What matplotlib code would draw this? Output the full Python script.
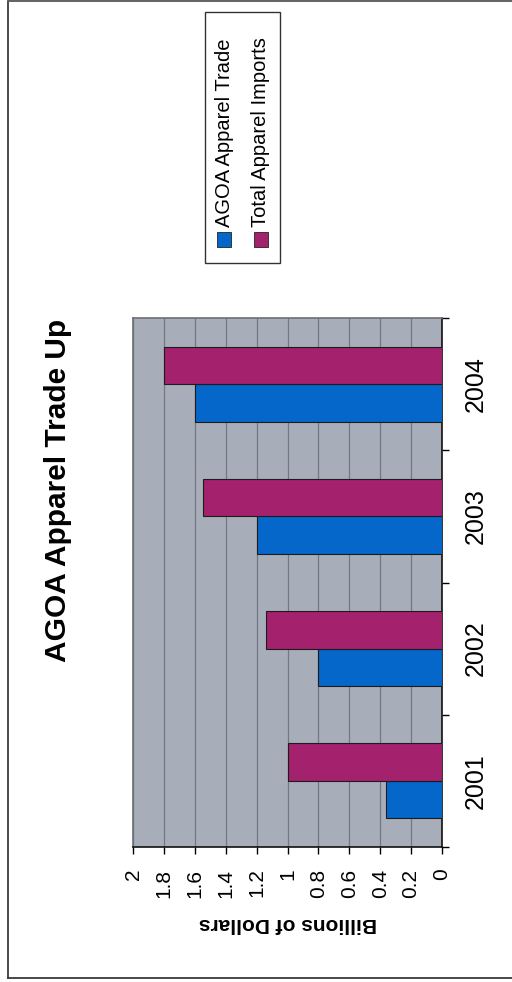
import numpy as np
import matplotlib.pyplot as plt
from matplotlib.patches import Rectangle
from matplotlib.lines import Line2D


# ============================================================
# DADOS DO GRÁFICO
# ============================================================

anos = ["2001", "2002", "2003", "2004"]

agoa_trade = [0.36, 0.80, 1.20, 1.60]      # AGOA Apparel Trade
total_imports = [1.00, 1.14, 1.55, 1.80]   # Total Apparel Imports

nomes_series = ["AGOA Apparel Trade", "Total Apparel Imports"]

valores_ticks = [0, 0.2, 0.4, 0.6, 0.8, 1, 1.2, 1.4, 1.6, 1.8, 2]
rotulos_ticks = ["0", "0.2", "0.4", "0.6", "0.8", "1", "1.2", "1.4", "1.6", "1.8", "2"]

titulo = "AGOA Apparel Trade Up"
rotulo_eixo = "Billions of Dollars"


# ============================================================
# ESTILO
# ============================================================

plt.rcParams['font.family'] = ['Liberation Sans', 'DejaVu Sans']

azul = "#0467c9"
rosa = "#a3216d"
fundo = "#a8adba"
grade = "#737885"

W, H = 512, 982


def fx(x):
    return x / W


def fy(y):
    return 1 - y / H


# ============================================================
# FIGURA (gráfico de colunas girado 90 graus)
# ============================================================

fig = plt.figure(figsize=(W / 100, H / 100), dpi=100)

ax = fig.add_axes([fx(133), fy(847), (442 - 133) / W, (847 - 318) / H])
ax.set_facecolor(fundo)

pos = np.arange(len(anos))
larg = 0.284

ax.barh(pos - larg / 2, agoa_trade, height=larg, color=azul,
        edgecolor="#1c1c1c", linewidth=0.8, zorder=3)
ax.barh(pos + larg / 2, total_imports, height=larg, color=rosa,
        edgecolor="#1c1c1c", linewidth=0.8, zorder=3)

ax.set_xlim(2, 0)
ax.set_ylim(-0.5, 3.5)

# eixo de valores (embaixo, rótulos girados)
ax.set_xticks(valores_ticks)
ax.set_xticklabels(rotulos_ticks, rotation=90, fontsize=15)
ax.tick_params(axis="x", direction="out", length=5, width=1, pad=10.5)
ax.xaxis.grid(True, color=grade, linewidth=0.9, zorder=0)
ax.set_axisbelow(True)

# eixo de categorias (à direita)
ax.yaxis.tick_right()
ax.set_yticks(pos)
ax.set_yticklabels(anos, rotation=90, fontsize=18, va="center")
ax.set_yticks(np.arange(-0.5, 4, 1), minor=True)
ax.tick_params(axis="y", which="major", length=0, pad=16)
ax.tick_params(axis="y", which="minor", direction="out", length=5,
               width=1, right=True, left=False)

for lado in ["top", "left"]:
    ax.spines[lado].set_color("#6d6f75")
    ax.spines[lado].set_linewidth(1.2)
for lado in ["bottom", "right"]:
    ax.spines[lado].set_color("#111111")
    ax.spines[lado].set_linewidth(1.2)

# rótulo do eixo de valores (de cabeça para baixo)
fig.text(fx(288), fy(924), rotulo_eixo, rotation=180, fontsize=15,
         fontweight="bold", ha="center", va="center")

# título
fig.text(fx(58), fy(490), titulo, rotation=90, fontsize=21.5,
         fontweight="bold", ha="center", va="center")


# ============================================================
# LEGENDA (montada à mão, girada)
# ============================================================

fig.add_artist(Rectangle((fx(205), fy(263)), 75 / W, 251 / H, fill=False,
                         edgecolor="#333333", linewidth=1,
                         transform=fig.transFigure))

cores = [azul, rosa]
xs_legenda = [224, 261]
for nome, cor, xl in zip(nomes_series, cores, xs_legenda):
    fig.add_artist(Rectangle((fx(xl - 7), fy(247)), 14 / W, 15 / H,
                             facecolor=cor, edgecolor="#222222", linewidth=0.6,
                             transform=fig.transFigure))
    fig.text(fx(xl), fy(227), nome, rotation=90, fontsize=14.5,
             ha="center", va="bottom")


# ============================================================
# MOLDURA EXTERNA
# ============================================================

fig.add_artist(Line2D([fx(8), fx(8)], [fy(2), fy(978)], color="#3a3a3a",
                      linewidth=1.3, transform=fig.transFigure))
fig.add_artist(Line2D([fx(8), fx(512)], [fy(978), fy(978)], color="#3a3a3a",
                      linewidth=1.3, transform=fig.transFigure))
fig.add_artist(Line2D([fx(8), fx(512)], [fy(1), fy(1)], color="#555555",
                      linewidth=1.3, transform=fig.transFigure))

fig.savefig("out.png", dpi=100)
